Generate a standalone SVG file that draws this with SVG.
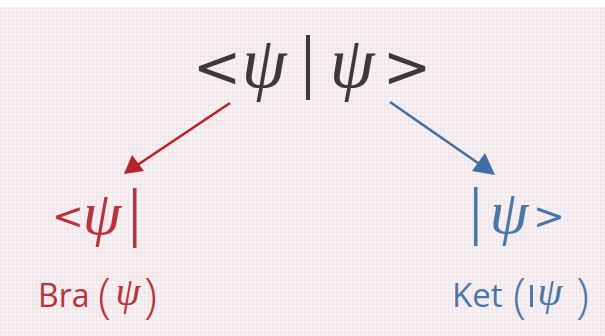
<svg xmlns="http://www.w3.org/2000/svg" width="605" height="336" viewBox="0 0 605 336">
<defs>
<style>
.main{font-family:"DejaVu Sans","Open Sans",sans-serif;fill:#3a3a3a}
.red{fill:#b8333a;font-family:"Open Sans","DejaVu Sans",sans-serif}
.blue{fill:#4a78a6;font-family:"Open Sans","DejaVu Sans",sans-serif}
.psi{font-family:"Liberation Serif","DejaVu Serif",serif;font-style:italic}
.par{font-family:"Open Sans","DejaVu Sans",sans-serif;font-weight:300}
</style>
<pattern id="grid" width="4" height="4" patternUnits="userSpaceOnUse">
<rect width="4" height="4" fill="#f8f1f4"/>
<path d="M0 0.5H4M0.5 0V4" stroke="#f0e6ea" stroke-width="1"/>
</pattern>
</defs>
<rect width="605" height="336" fill="url(#grid)"/>
<rect width="605" height="7" fill="#ffffff"/>
<g id="connectors">
<line x1="230" y1="103" x2="130" y2="170" stroke="#b8222a" stroke-width="2.6"/>
<path d="M124 174L132 155L144 171Z" fill="#b8222a"/>
<line x1="390" y1="102" x2="488" y2="170" stroke="#3f6fa3" stroke-width="2.6"/>
<path d="M495 175L472 171L485 153Z" fill="#3f6fa3"/>
</g>
<g id="inner-product">
<text class="main" font-size="58" x="217" y="87" text-anchor="middle">&lt;</text>
<text class="main psi" font-size="72" x="264" y="87" text-anchor="middle">ψ</text>
<rect x="306" y="35" width="4" height="65" fill="#3a3a3a"/>
<text class="main psi" font-size="72" x="352" y="87" text-anchor="middle">ψ</text>
<text class="main" font-size="58" x="407" y="87" text-anchor="middle">&gt;</text>
</g>
<g id="bra">
<text class="red" font-size="38" x="68" y="229" text-anchor="middle" style="font-family:'DejaVu Sans',sans-serif">&lt;</text>
<text class="red psi" font-size="62" x="102" y="234" text-anchor="middle">ψ</text>
<rect x="133" y="188" width="3.5" height="60" fill="#b8333a"/>
<text class="red" font-size="32" x="38" y="307">Bra</text>
<text class="red par" font-size="48" x="98" y="312">(</text>
<text class="red psi" font-size="40" x="128" y="305" text-anchor="middle">ψ</text>
<text class="red par" font-size="48" x="144" y="312">)</text>
</g>
<g id="ket">
<rect x="474" y="187" width="3.5" height="59" fill="#4a78a6"/>
<text class="blue psi" font-size="62" x="509" y="233" text-anchor="middle">ψ</text>
<text class="blue" font-size="38" x="549" y="229" text-anchor="middle" style="font-family:'DejaVu Sans',sans-serif">&gt;</text>
<text class="blue" font-size="33" x="452" y="307">Ket</text>
<text class="blue par" font-size="48" x="513" y="312">(</text>
<rect x="530" y="285" width="3" height="22" fill="#4a78a6"/>
<text class="blue psi" font-size="40" x="550" y="305" text-anchor="middle">ψ</text>
<text class="blue par" font-size="48" x="576" y="312">)</text>
</g>
</svg>
